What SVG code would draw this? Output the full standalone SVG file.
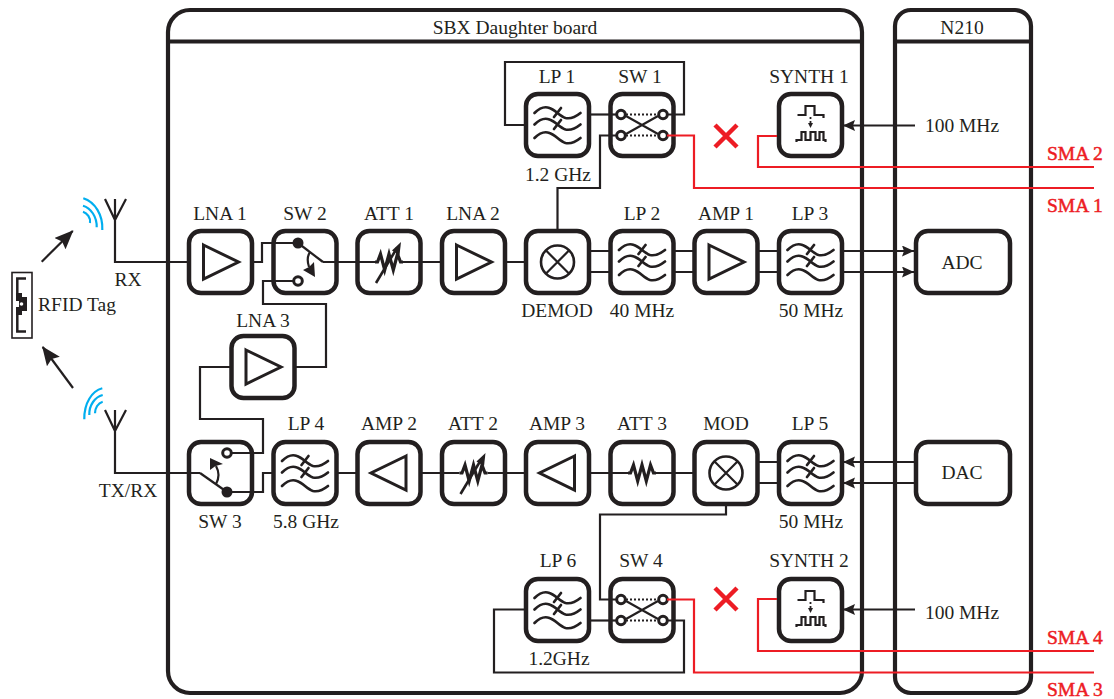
<svg xmlns="http://www.w3.org/2000/svg" width="1114" height="699" viewBox="0 0 1114 699">
<style>
text{font-family:"Liberation Serif","Times New Roman",serif;font-size:19.5px;fill:#231f20;text-anchor:middle}
.sma{fill:#ed1c24;stroke:#ed1c24;stroke-width:.5px;text-anchor:start}
.box{fill:#fff;stroke:#231f20;stroke-width:4.500}
.panel{fill:none;stroke:#231f20;stroke-width:4.200}
.s{fill:none;stroke:#231f20;stroke-width:3}
.w{fill:none;stroke:#231f20;stroke-width:2.700;stroke-linecap:round}
.c{fill:none;stroke:#231f20;stroke-width:2.200}
.r{fill:none;stroke:#ed1c24;stroke-width:2.200}
.x{fill:none;stroke:#ed1c24;stroke-width:4.500}
.b{fill:none;stroke:#00aeef;stroke-width:2.200}
.k{fill:#231f20}
</style>
<defs>
<marker id="ah" markerUnits="userSpaceOnUse" markerWidth="13" markerHeight="12" refX="12" refY="5.500" orient="auto"><path d="M0,0L12,5.500L0,11L2,5.500Z" fill="#231f20"/></marker>
<marker id="ab" markerUnits="userSpaceOnUse" markerWidth="20" markerHeight="18" refX="18" refY="8" orient="auto"><path d="M0,0L19,8L0,16L3,8Z" fill="#231f20"/></marker>
<path id="wv" class="w" d="M-23,-12C-18,-17 -13,-19 -8,-17C-2,-15 2,-9 8,-7C13,-6 18,-8 23,-12"/>
<g id="filter"><use href="#wv"/><use href="#wv" y="11.500"/><use href="#wv" y="25"/><path class="w" d="M-3.500,-8L3.500,-17M-3.500,4L3.500,-5"/></g>
<path id="ampR" class="s" d="M-17,-17L18,0L-17,17Z"/>
<path id="ampL" class="s" d="M17,-17L-18,0L17,17Z"/>
<g id="mix"><circle class="c" r="16.500" style="stroke-width:2.600"/><path class="c" d="M-11.700,-11.700L11.700,11.700M-11.700,11.700L11.700,-11.700"/></g>
<path id="res" d="M-14,0H-11.500L-8.500,-8L-4.300,8L0,-8L4.300,8L8.500,-8L11.500,0H14" fill="none" stroke="#231f20" stroke-width="3.200"/>
<g id="vres"><use href="#res"/><path class="c" d="M-13,21L8,-14" style="stroke-width:2.600"/><path class="k" d="M12,-20L10.500,-7L3,-11.500Z"/></g>
<g id="cross"><circle class="s" cx="-21" cy="-10.500" r="4.300"/><circle class="s" cx="21" cy="-10.500" r="4.300"/><circle class="s" cx="-21" cy="10.500" r="4.300"/><circle class="s" cx="21" cy="10.500" r="4.300"/><path class="c" d="M-16,-9L16,9M-16,9L16,-9"/><path class="c" stroke-dasharray="2 2" style="stroke-dasharray:2 2" d="M-16,-10.500H16M-16,10.500H16"/></g>
<g id="synth"><path class="c" d="M-13,-10H-5V-19H4V-10H13V-7M-14,17V15H-9V7H-5V15H0V7H5V15H9V7H13V15H15V17"/><path class="c" style="stroke-dasharray:2 2;stroke-width:1.800" d="M0,-8V-2"/><path class="k" d="M-2.500,-2H2.500L0,3Z"/></g>
<rect id="bx" class="box" x="-31.500" y="-31" width="63" height="62" rx="12"/>
</defs>

<g id="panels">
<g id="sbx"><rect class="panel" x="168" y="10" width="694" height="683" rx="22"/><path class="panel" d="M168,41.500H862"/><text x="515" y="34">SBX Daughter board</text></g>
<g id="n210"><rect class="panel" x="895" y="10" width="136" height="683" rx="16"/><path class="panel" d="M895,41.500H1031"/><text x="962" y="34">N210</text></g>
</g>

<g id="node-lna1"><use href="#bx" x="220.500" y="262"/><use href="#ampR" x="220.500" y="262"/><text x="220" y="220">LNA 1</text></g>
<g id="node-sw2"><use href="#bx" x="305" y="262"/><circle class="k" cx="298" cy="243" r="5.500"/><circle class="s" cx="298" cy="281" r="4.300"/><path class="c" d="M298,243L323,262"/><path class="c" d="M310,252Q306,258 309,267"/><path class="k" d="M303,270L309,267L314,262L315,277Z"/><text x="305" y="220">SW 2</text></g>
<g id="node-att1"><use href="#bx" x="389" y="262"/><use href="#vres" x="389" y="262"/><text x="389" y="220">ATT 1</text></g>
<g id="node-lna2"><use href="#bx" x="473.500" y="262"/><use href="#ampR" x="473.500" y="262"/><text x="473" y="220">LNA 2</text></g>
<g id="node-demod"><use href="#bx" x="557.500" y="262"/><use href="#mix" x="557.500" y="262"/><text x="557" y="317">DEMOD</text></g>
<g id="node-lp2"><use href="#bx" x="642" y="262"/><use href="#filter" x="642" y="262"/><text x="642" y="220">LP 2</text><text x="642" y="317">40 MHz</text></g>
<g id="node-amp1"><use href="#bx" x="726" y="262"/><use href="#ampR" x="726" y="262"/><text x="726" y="220">AMP 1</text></g>
<g id="node-lp3"><use href="#bx" x="810.500" y="262"/><use href="#filter" x="810.500" y="262"/><text x="810" y="220">LP 3</text><text x="811" y="317">50 MHz</text></g>

<g id="node-lp1"><use href="#bx" x="557.500" y="125"/><use href="#filter" x="557.500" y="125"/><text x="557" y="83">LP 1</text><text x="558" y="181">1.2 GHz</text></g>
<g id="node-sw1"><use href="#bx" x="642" y="125"/><use href="#cross" x="642" y="125"/><text x="640" y="83">SW 1</text></g>
<g id="node-synth1"><use href="#bx" x="810.500" y="125"/><use href="#synth" x="810.500" y="125"/><text x="809" y="83">SYNTH 1</text></g>

<g id="node-lna3"><use href="#bx" x="263" y="367"/><use href="#ampR" x="263" y="367"/><text x="263" y="327">LNA 3</text></g>

<g id="node-sw3"><use href="#bx" x="220.500" y="473"/><circle class="s" cx="227" cy="453" r="4.300"/><circle class="k" cx="227" cy="492" r="5.500"/><path class="c" d="M200,473L227,492"/><path class="c" d="M216,484Q221,475 216,466"/><path class="k" d="M210,458L210,470L215.500,466L223,464Z"/><text x="220" y="528">SW 3</text></g>
<g id="node-lp4"><use href="#bx" x="305" y="473"/><use href="#filter" x="305" y="473"/><text x="306" y="430">LP 4</text><text x="306" y="528">5.8 GHz</text></g>
<g id="node-amp2"><use href="#bx" x="389" y="473"/><use href="#ampL" x="389" y="473"/><text x="389" y="430">AMP 2</text></g>
<g id="node-att2"><use href="#bx" x="473.500" y="473"/><use href="#vres" x="473.500" y="473"/><text x="473" y="430">ATT 2</text></g>
<g id="node-amp3"><use href="#bx" x="557.500" y="473"/><use href="#ampL" x="557.500" y="473"/><text x="557" y="430">AMP 3</text></g>
<g id="node-att3"><use href="#bx" x="642" y="473"/><use href="#res" x="642" y="473"/><text x="642" y="430">ATT 3</text></g>
<g id="node-mod"><use href="#bx" x="726" y="473"/><use href="#mix" x="726" y="473"/><text x="726" y="430">MOD</text></g>
<g id="node-lp5"><use href="#bx" x="810.500" y="473"/><use href="#filter" x="810.500" y="473"/><text x="810" y="430">LP 5</text><text x="811" y="528">50 MHz</text></g>

<g id="node-lp6"><use href="#bx" x="557.500" y="610"/><use href="#filter" x="557.500" y="610"/><text x="558" y="567">LP 6</text><text x="559" y="665">1.2GHz</text></g>
<g id="node-sw4"><use href="#bx" x="642" y="610"/><use href="#cross" x="642" y="610"/><text x="641" y="567">SW 4</text></g>
<g id="node-synth2"><use href="#bx" x="810.500" y="610"/><use href="#synth" x="810.500" y="610"/><text x="809" y="567">SYNTH 2</text></g>

<g id="node-adc"><rect class="box" x="916" y="231" width="94" height="62" rx="12"/><text x="962" y="269">ADC</text></g>
<g id="node-dac"><rect class="box" x="916" y="442" width="94" height="62" rx="12"/><text x="962" y="479">DAC</text></g>

<g id="connectors">
<path class="c" d="M105,199L115,220L126,199M115,199V262H187"/>
<path class="c" d="M105,410L115,431L126,410M115,410V473H200"/>
<path class="c" d="M254,262H262V243H293"/>
<path class="c" d="M293.500,281H263V304H326V367H296"/>
<path class="c" d="M230,367H200V419H263V453H232"/>
<path class="c" d="M232,492H263V473H272"/>
<path class="c" d="M323,262H375M403,262H440M507,262H524"/>
<path class="c" d="M591,251H609M591,272H609M675,251H693M675,272H693M759,251H777M759,272H777"/>
<path class="c" marker-end="url(#ah)" d="M843,251H914"/>
<path class="c" marker-end="url(#ah)" d="M843,272H914"/>
<path class="c" d="M338,473H356M422,473H459.500M487.500,473H524M591,473H628M656,473H693"/>
<path class="c" d="M759,462H777M759,483H777"/>
<path class="c" marker-end="url(#ah)" d="M914,462H843"/>
<path class="c" marker-end="url(#ah)" d="M914,483H843"/>
<path class="c" d="M667,114.500H684V62H505V125H524"/>
<path class="c" d="M591,114.500H616.500"/>
<path class="c" d="M616.500,135.500H600V188H557.500V229"/>
<path class="c" marker-end="url(#ah)" d="M915,125.500H843"/>
<path class="c" marker-end="url(#ah)" d="M915,609.500H843"/>
<path class="c" d="M726,506V514.500H600V599.500H616.500"/>
<path class="c" d="M591,620.500H616.500"/>
<path class="c" d="M524,609.500H494V672.500H684V620.500H667"/>
<path class="c" marker-end="url(#ab)" d="M41.700,261.700L72.700,231"/>
<path class="c" marker-end="url(#ab)" d="M73,388L42.700,347"/>
<path class="r" d="M667,135.500H694V188H1094"/>
<path class="r" d="M777,136H758V167H1094"/>
<path class="r" d="M667,599.500H694V672.500H1094"/>
<path class="r" d="M777,599H758V651H1094"/>
<path class="x" d="M715,125L737,147M737,125L715,147"/>
<path class="x" d="M715,588L737,610M737,588L715,610"/>
</g>

<g id="rfid-tag"><rect fill="none" stroke="#231f20" stroke-width="1.600" x="12" y="272.500" width="20" height="65.500"/>
<path fill="none" stroke="#231f20" stroke-width="2.500" d="M26,278.500H17.300V294M17.300,312V331.500H26"/>
<path class="k" d="M16,293H22V297H27V311H22V315H16V307H19V301H16Z"/>
<circle fill="#fff" cx="21.500" cy="304" r="1.800"/>
<text x="77" y="311">RFID Tag</text></g>
<g id="antenna-labels"><text x="128" y="286">RX</text><text x="128" y="497">TX/RX</text></g>
<g id="waves">
<path class="b" d="M83.300,198.300C95,202 103,215 102.300,230M83,205.700C91,208 97,217 96.700,227.300M83,211.700C87,213 91,218 90,223"/>
<path class="b" d="M102.300,388.300C92,391 84,403 84.300,419.300M102.700,395C95,397 89,405 89.300,415M102.700,401.700C98,403 95,408 95,413.300"/>
</g>
<g id="clock-labels"><text x="962" y="132">100 MHz</text><text x="962" y="619">100 MHz</text></g>
<g id="sma-labels"><text class="sma" x="1047" y="160">SMA 2</text><text class="sma" x="1047" y="212">SMA 1</text><text class="sma" x="1047" y="644">SMA 4</text><text class="sma" x="1047" y="696">SMA 3</text></g>
</svg>
